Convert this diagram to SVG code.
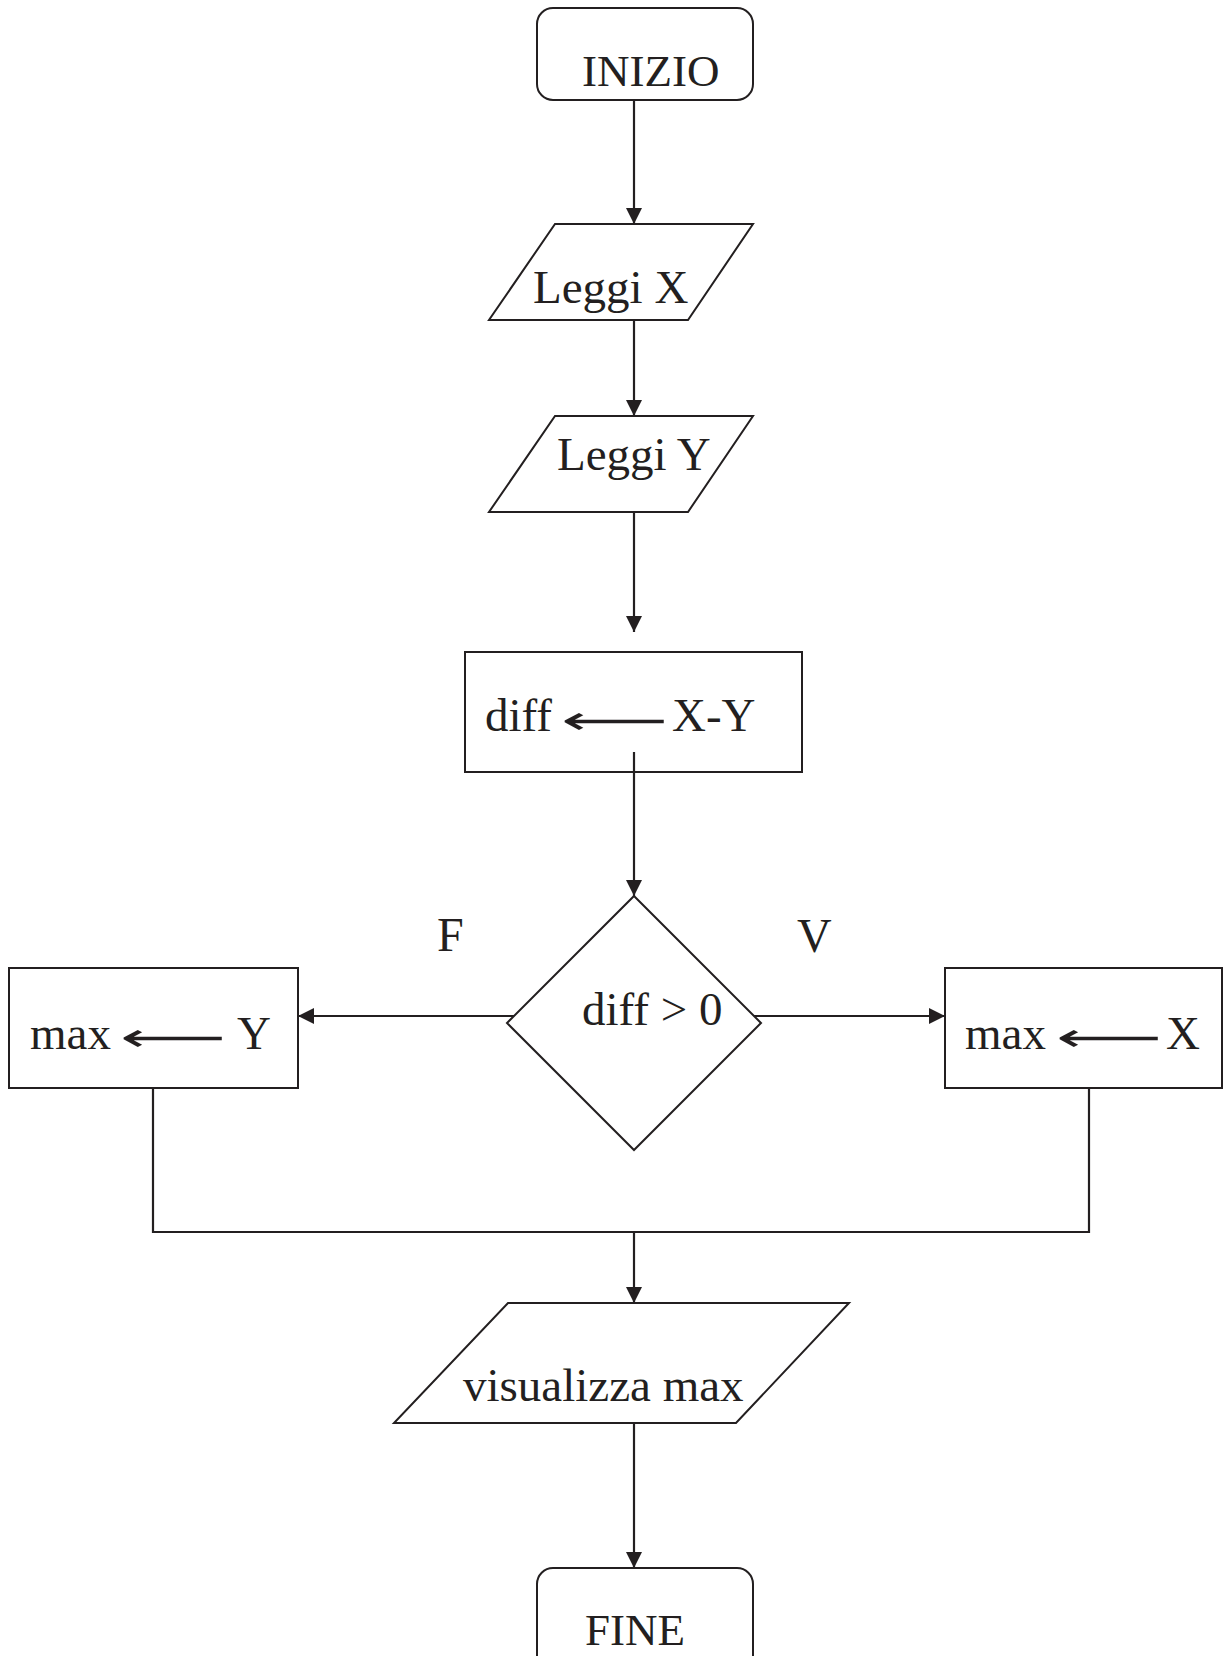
<svg xmlns="http://www.w3.org/2000/svg" width="1224" height="1656" viewBox="0 0 1224 1656">
  <style>
    .shape { fill: #ffffff; stroke: #231f20; stroke-width: 2; }
    .wire { fill: none; stroke: #231f20; stroke-width: 2.2; }
    .lbl { font-family: "Liberation Serif", "Times New Roman", serif; font-size: 47px; fill: #231f20; }
    .term { font-size: 45px; }
    .branch { font-size: 48px; }
    .assign { font-family: "DejaVu Sans", sans-serif; font-size: 40px; }
  </style>
  <defs>
    <marker id="head" markerUnits="userSpaceOnUse" markerWidth="16" markerHeight="16" refX="16" refY="8" orient="auto">
      <path d="M0,0 L16,8 L0,16 z" fill="#231f20"/>
    </marker>
  </defs>

  <rect width="1224" height="1656" fill="#ffffff"/>

  <!-- connectors -->
  <g id="connectors">
    <line class="wire" x1="634" y1="100" x2="634" y2="224" marker-end="url(#head)"/>
    <line class="wire" x1="634" y1="320" x2="634" y2="416" marker-end="url(#head)"/>
    <line class="wire" x1="634" y1="512" x2="634" y2="632" marker-end="url(#head)"/>
    <line class="wire" x1="634" y1="752" x2="634" y2="896" marker-end="url(#head)"/>
    <line class="wire" x1="514" y1="1016" x2="298" y2="1016" marker-end="url(#head)"/>
    <line class="wire" x1="754" y1="1016" x2="945" y2="1016" marker-end="url(#head)"/>
    <polyline class="wire" points="153,1088 153,1232 1089,1232 1089,1088"/>
    <line class="wire" x1="634" y1="1232" x2="634" y2="1303" marker-end="url(#head)"/>
    <line class="wire" x1="634" y1="1423" x2="634" y2="1568" marker-end="url(#head)"/>
  </g>

  <!-- start -->
  <g id="inizio">
    <rect class="shape" x="537" y="8" width="216" height="92" rx="16"/>
    <text class="lbl term" x="582" y="86">INIZIO</text>
  </g>

  <!-- inputs -->
  <g id="leggi-x">
    <polygon class="shape" points="555,224 753,224 688,320 489,320"/>
    <text class="lbl" x="533" y="303">Leggi X</text>
  </g>
  <g id="leggi-y">
    <polygon class="shape" points="555,416 753,416 688,512 489,512"/>
    <text class="lbl" x="557" y="470">Leggi Y</text>
  </g>

  <!-- difference -->
  <g id="calc-diff">
    <rect class="shape" x="465" y="652" width="337" height="120"/>
    <line class="wire" x1="634" y1="752" x2="634" y2="772"/>
    <text class="lbl" y="731"><tspan x="485">diff</tspan><tspan class="assign" x="561" y="734" textLength="107" lengthAdjust="spacingAndGlyphs">⟵</tspan><tspan x="672" y="731">X-Y</tspan></text>
  </g>

  <!-- decision -->
  <g id="test">
    <polygon class="shape" points="634,896 761,1023 634,1150 507,1023"/>
    <text class="lbl" x="582" y="1025">diff &gt; 0</text>
  </g>
  <g id="branch-labels">
    <text class="lbl branch" x="437" y="951">F</text>
    <text class="lbl branch" x="797" y="952">V</text>
  </g>

  <!-- assignments -->
  <g id="max-y">
    <rect class="shape" x="9" y="968" width="289" height="120"/>
    <text class="lbl" y="1049"><tspan x="30">max</tspan><tspan class="assign" x="120" y="1051" textLength="106" lengthAdjust="spacingAndGlyphs">⟵</tspan><tspan x="237" y="1049">Y</tspan></text>
  </g>
  <g id="max-x">
    <rect class="shape" x="945" y="968" width="277" height="120"/>
    <text class="lbl" y="1049"><tspan x="965">max</tspan><tspan class="assign" x="1056" y="1051" textLength="106" lengthAdjust="spacingAndGlyphs">⟵</tspan><tspan x="1166" y="1049">X</tspan></text>
  </g>

  <!-- output -->
  <g id="visualizza">
    <polygon class="shape" points="508,1303 849,1303 736,1423 394,1423"/>
    <text class="lbl" x="463" y="1401">visualizza max</text>
  </g>

  <!-- end -->
  <g id="fine">
    <rect class="shape" x="537" y="1568" width="216" height="110" rx="16"/>
    <text class="lbl term" x="585" y="1645">FINE</text>
  </g>
</svg>
